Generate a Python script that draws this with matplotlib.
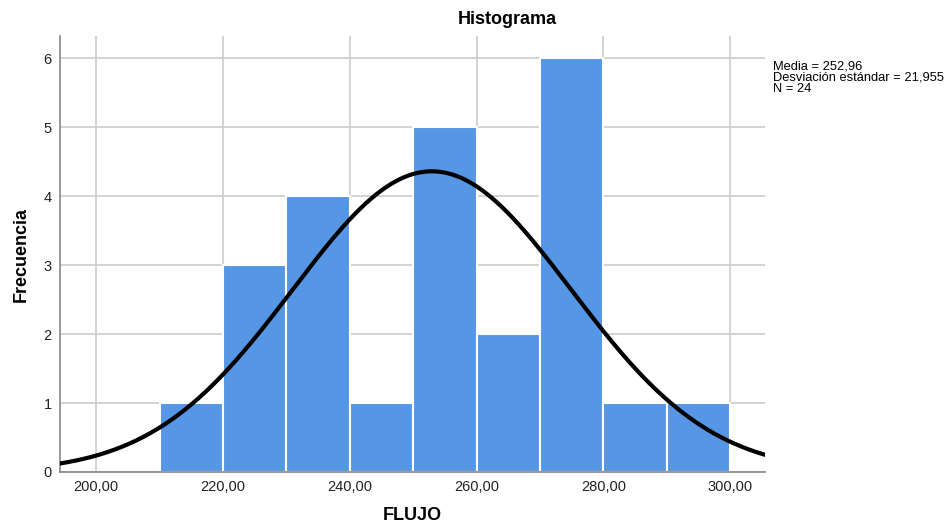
import numpy as np
import matplotlib
matplotlib.use("Agg")
from matplotlib import pyplot as plt

plt.rcParams['font.family'] = ['Liberation Sans', 'DejaVu Sans']

# histogram of FLUJO, bins of width 10
bin_edges = [210, 220, 230, 240, 250, 260, 270, 280, 290, 300]
counts = [1, 3, 4, 1, 5, 2, 6, 1, 1]
media = 252.96
desv = 21.955
n = 24
xticks = [200, 220, 240, 260, 280, 300]
yticks = [0, 1, 2, 3, 4, 5, 6]

fig = plt.figure(figsize=(9.52, 5.25), dpi=100)
ax = fig.add_axes([0.063, 0.101, 0.7406, 0.830])

lefts = bin_edges[:-1]
widths = np.diff(bin_edges)
ax.bar(lefts, counts, width=widths, align='edge', color='#5596e5',
       edgecolor='white', linewidth=1.5, zorder=2)

xs = np.linspace(194.3, 305.5, 400)
binw = bin_edges[1] - bin_edges[0]
ys = n * binw / (desv * np.sqrt(2 * np.pi)) * np.exp(-0.5 * ((xs - media) / desv) ** 2)
ax.plot(xs, ys, color='black', lw=3, zorder=3)

ax.set_xlim(194.3, 305.5)
ax.set_ylim(0, 6.32)
ax.set_xticks(xticks)
ax.set_xticklabels([f"{v:.2f}".replace('.', ',') for v in xticks])
ax.set_yticks(yticks)
ax.tick_params(length=0, labelsize=10.5, pad=6, colors='#222222')
ax.grid(True, color='#cccccc', lw=1.2, zorder=0)
ax.set_axisbelow(True)
for s in ['top', 'right']:
    ax.spines[s].set_visible(False)
for s in ['left', 'bottom']:
    ax.spines[s].set_color('#888888')
    ax.spines[s].set_linewidth(1.2)

ax.set_xlabel('FLUJO', fontsize=13, fontweight='bold', labelpad=9)
ax.set_ylabel('Frecuencia', fontsize=13, fontweight='bold', labelpad=10)
fig.text(0.533, 0.962, 'Histograma', ha='center', va='center',
         fontsize=13, fontweight='bold')

fig.text(0.812, 0.885,
         f"Media = {media:.2f}".replace('.', ',') + "\n"
         + f"Desviación estándar = {desv:.3f}".replace('.', ',') + "\n"
         + f"N = {n}",
         ha='left', va='top', fontsize=9.3, linespacing=0.92)

fig.savefig('out.png', dpi=100)
